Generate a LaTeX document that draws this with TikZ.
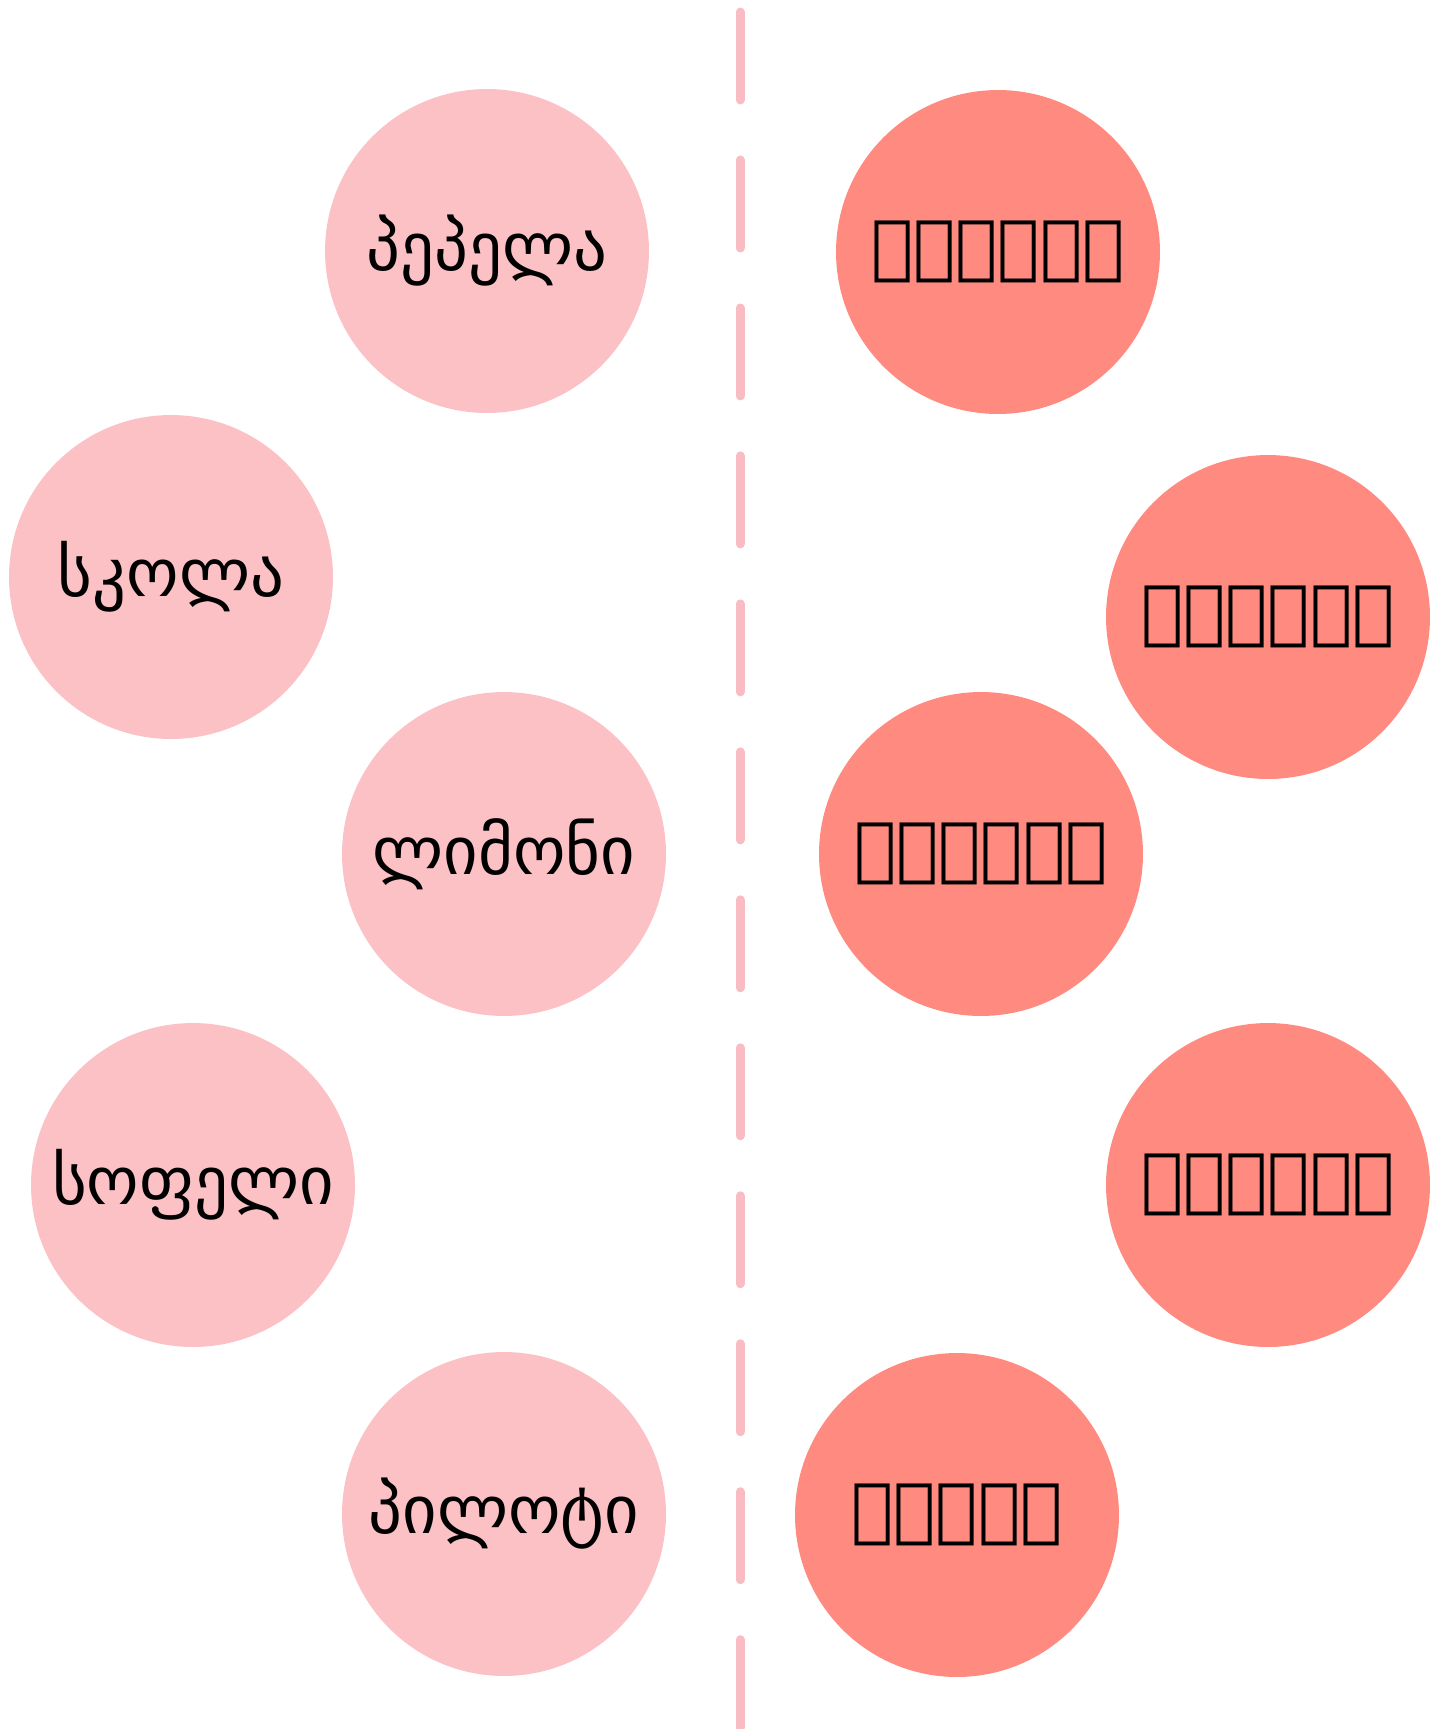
\documentclass[tikz,border=0pt]{standalone}
\usepackage{fontspec}
\usepackage{tikz}
\setmainfont{DejaVu Sans}
\newfontfamily\geofont{DejaVu Sans}
\newfontfamily\geocaps{DejaVu Sans}
\definecolor{softpink}{HTML}{FBC1C5}
\definecolor{salmon}{HTML}{FF8A80}
\definecolor{divider}{HTML}{F9BCC2}

\begin{document}
\begin{tikzpicture}[
		x=0.02cm, y=-0.02cm,
		every node/.style={align=center},
		lcirc/.style={circle, fill=softpink, minimum size=6.48cm,
				inner sep=0pt, font=\geofont\fontsize{38}{44}\selectfont},
		rcirc/.style={circle, fill=salmon, minimum size=6.48cm,
				inner sep=0pt, font=\geocaps\fontsize{40}{46}\selectfont},
		divline/.style={divider, line width=0.18cm, line cap=round,
				dash pattern=on 1.76cm off 1.2cm},
		]
		\useasboundingbox (0,0) rectangle (1444,1729);

		% divider
		\coordinate (top) at (740,12);
		\coordinate (bot) at (740,1740);
		\draw[divline] (top) -- (bot);

		% left column
		\node[lcirc] (l1) at (487,251)  {პეპელა};
		\node[lcirc] (l2) at (171,577)  {სკოლა};
		\node[lcirc] (l3) at (504,854)  {ლიმონი};
		\node[lcirc] (l4) at (193,1185) {სოფელი};
		\node[lcirc] (l5) at (504,1514) {პილოტი};

		% right column
		\node[rcirc] (r1) at (998,252)  {ᲚᲘᲛᲝᲜᲘ};
		\node[rcirc] (r2) at (1268,617) {ᲡᲝᲤᲔᲚᲘ};
		\node[rcirc] (r3) at (981,854)  {ᲞᲘᲚᲝᲢᲘ};
		\node[rcirc] (r4) at (1268,1185) {ᲞᲔᲞᲔᲚᲐ};
		\node[rcirc] (r5) at (957,1515) {ᲡᲙᲝᲚᲐ};

	\end{tikzpicture}
\end{document}
